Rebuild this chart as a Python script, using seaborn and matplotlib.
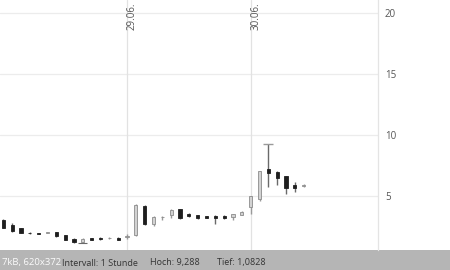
import matplotlib
matplotlib.use("Agg")
import matplotlib.pyplot as plt
import seaborn as sns
import numpy as np
import pandas as pd
from matplotlib.patches import Rectangle

# ---- data (hourly candles, 14 per trading day) ----
opens  = [3.03, 2.62, 2.30, 1.95, 1.90, 1.92, 1.97, 1.75, 1.45, 1.22, 1.50, 1.53, 1.50, 1.53,
          1.62, 1.80, 4.12, 2.68, 3.22, 3.39, 3.88, 3.50, 3.39, 3.30, 3.36, 3.34, 3.28, 3.44,
          4.04, 4.75, 7.22, 6.91, 6.58, 5.85, 5.78]
closes = [2.35, 2.13, 1.94, 1.90, 1.88, 1.96, 1.66, 1.37, 1.17, 1.42, 1.37, 1.40, 1.55, 1.37,
          1.66, 4.26, 2.68, 3.22, 3.26, 3.85, 3.17, 3.32, 3.17, 3.20, 3.17, 3.14, 3.48, 3.66,
          4.94, 7.00, 6.88, 6.45, 5.63, 5.65, 5.88]
highs  = [3.10, 2.75, 2.35, 2.05, 1.95, 2.02, 2.00, 1.80, 1.48, 1.48, 1.52, 1.56, 1.58, 1.56,
          1.86, 4.30, 4.20, 3.30, 3.32, 3.90, 3.92, 3.55, 3.42, 3.34, 3.40, 3.38, 3.52, 3.70,
          4.98, 7.05, 9.288, 7.00, 6.62, 6.10, 5.92]
lows   = [2.30, 2.05, 1.90, 1.82, 1.84, 1.90, 1.62, 1.33, 1.14, 1.0828, 1.35, 1.38, 1.46, 1.35,
          1.40, 1.65, 2.60, 2.48, 3.03, 3.20, 3.10, 3.28, 3.12, 3.15, 2.68, 3.10, 3.00, 3.40,
          3.50, 4.60, 5.75, 5.90, 5.10, 5.30, 5.74]
day_labels = ["29.06.", "30.06."]
day_starts = [14, 28]
y_ticks = [5, 10, 15, 20]
footer_texts = ["Intervall: 1 Stunde", "Hoch: 9,288", "Tief: 1,0828"]

df = pd.DataFrame({"i": np.arange(len(opens)), "open": opens, "close": closes,
                   "high": highs, "low": lows})
df["up"] = df["close"] >= df["open"]

sns.set_theme(style="white")
plt.rcParams["font.family"] = ["Open Sans", "DejaVu Sans"]

W, H = 450, 270
fig = plt.figure(figsize=(W / 100, H / 100), dpi=100)
fig.patch.set_facecolor("white")
ax = fig.add_axes([0, 20 / H, 378 / W, 250 / H])
ax.set_facecolor("white")

# grid
for v in y_ticks:
    ax.axhline(v, color="#ececec", lw=0.9, zorder=0)
for d in day_starts:
    ax.axvline(d + 0.05, color="#e2e2e2", lw=0.9, zorder=0)

# wicks
up = df[df["up"]]
dn = df[~df["up"]]
ax.vlines(up["i"], up["low"], up["high"], color="#9a9a9a", lw=1.0, zorder=2)
ax.vlines(dn["i"], dn["low"], dn["high"], color="#6a6a6a", lw=1.0, zorder=2)

# bodies
bw = 0.36
ax.bar(up["i"], (up["close"] - up["open"]).clip(lower=0.05), bottom=up["open"], width=bw,
       color="#d2d2d2", edgecolor="#8c8c8c", linewidth=0.6, zorder=3)
ax.bar(dn["i"], (dn["close"] - dn["open"]), bottom=dn["open"], width=bw,
       color="#1e1e1e", edgecolor="#1e1e1e", linewidth=0.6, zorder=3)

# high / low markers
ih = int(np.argmax(highs)); il = int(np.argmin(lows))
ax.hlines(highs[ih], ih - 0.55, ih + 0.55, color="#9a9a9a", lw=1.0, zorder=3)
ax.hlines(lows[il], il - 0.5, il + 0.5, color="#6a6a6a", lw=0.8, zorder=3)

ax.set_xlim(-0.374, 42.41)
ax.set_ylim(0.53, 21.09)
ax.set_xticks([])
ax.yaxis.tick_right()
ax.set_yticks(y_ticks)
ax.set_yticklabels([str(v) for v in y_ticks], fontsize=7, color="#555555")
ax.tick_params(axis="y", length=0, pad=5)
for s in ["top", "left", "bottom"]:
    ax.spines[s].set_visible(False)
ax.spines["right"].set_color("#e4e4e4")
ax.spines["right"].set_linewidth(0.9)

for lab, d in zip(day_labels, day_starts):
    ax.text(d + 0.62, 1 - 2 / 250, lab, rotation=90, ha="center", va="top",
            fontsize=7, color="#555555", transform=ax.get_xaxis_transform())

# footer
fig.patches.append(Rectangle((0, 0), 1, 20 / H, transform=fig.transFigure,
                             facecolor="#b5b5b5", edgecolor="none", zorder=-1))
fy = (H - 263) / H
for txt, px in zip(footer_texts, [62, 150, 217]):
    fig.text(px / W, fy, txt, fontsize=6.5, color="#333333", ha="left", va="center")
fig.text(2 / W, (H - 262) / H, "7kB, 620x372", fontsize=6.8, color="white",
         alpha=0.95, ha="left", va="center")

fig.savefig("out.png", dpi=100)
